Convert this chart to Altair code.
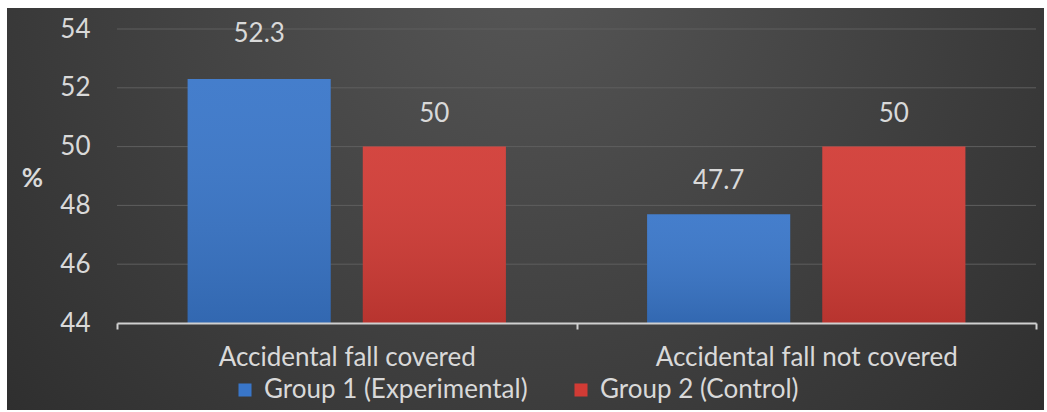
import altair as alt
import pandas as pd

categories = ["Accidental fall covered", "Accidental fall not covered"]
groups = ["Group 1 (Experimental)", "Group 2 (Control)"]
group1 = [52.3, 47.7]
group2 = [50, 50]
y_ticks = [44, 46, 48, 50, 52, 54]

rows = []
for i, cat in enumerate(categories):
    rows.append({"category": cat, "group": groups[0], "value": group1[i]})
    rows.append({"category": cat, "group": groups[1], "value": group2[i]})
df = pd.DataFrame(rows)
grid_df = pd.DataFrame({"tick": y_ticks[1:]})

W, H = 919, 294
PAD = {"left": 117, "top": 29, "right": 11, "bottom": 89}
FONT = "Lato"
FS = 26
TXT = "#d9d9d9"

# dark backdrop with a soft radial glow, spanning the whole card
backdrop = alt.Chart(pd.DataFrame({"k": [0]})).mark_rect(
    fill=alt.RadialGradient(
        gradient="radial",
        stops=[alt.GradientStop(color="#575757", offset=0),
               alt.GradientStop(color="#2a2a2a", offset=1)],
        x1=0.5, y1=0.25, r1=0, x2=0.5, y2=0.25, r2=0.75,
    )
).encode(
    x=alt.value(-110), x2=alt.value(W + 8),
    y=alt.value(-21), y2=alt.value(H + 87),
)

y_scale = alt.Scale(domain=[44, 54], nice=False, zero=False)

# horizontal gridlines behind the bars
grid = alt.Chart(grid_df).mark_rule(color="#5e5e5e", strokeWidth=1).encode(
    y=alt.Y("tick:Q", scale=y_scale), x=alt.value(0), x2=alt.value(W)
)

x_enc = alt.X("category:N", sort=categories, title=None,
              scale=alt.Scale(paddingInner=0, paddingOuter=0),
              axis=alt.Axis(labelAngle=0, labelFont=FONT, labelFontSize=FS,
                            labelColor=TXT, domainColor="#d0d0d0", domainWidth=2,
                            tickColor="#d0d0d0", tickWidth=2, tickSize=6,
                            tickBand="extent", labelPadding=15, grid=False,
                            labelLimit=0, zindex=2))
xo_enc = alt.XOffset("group:N", sort=groups,
                     scale=alt.Scale(paddingInner=0.183, paddingOuter=0.403))
y_enc = alt.Y("value:Q", title="%", scale=y_scale,
              axis=alt.Axis(values=y_ticks, labelFont=FONT, labelFontSize=FS,
                            labelColor=TXT, labelPadding=27, domain=False,
                            ticks=False, grid=False, zindex=2,
                            titleAngle=0, titleX=-85, titleY=162,
                            titleFont=FONT, titleFontSize=FS, titleColor=TXT,
                            titleFontWeight="bold"))

bars = alt.Chart(df).mark_bar().encode(
    x=x_enc, xOffset=xo_enc, y=y_enc,
    y2=alt.datum(44),
    color=alt.Color("group:N", sort=groups,
                    scale=alt.Scale(domain=groups, range=["#3976c9", "#d13b35"]),
                    legend=alt.Legend(title=None, orient="none", direction="horizontal",
                                      legendX=115, legendY=348,
                                      symbolType="square", symbolSize=170,
                                      symbolStrokeWidth=0, labelFont=FONT,
                                      labelFontSize=FS, labelColor=TXT,
                                      labelLimit=0, columnPadding=40, labelOffset=6)),
)

# subtle top-to-bottom shading on each bar
shade = alt.Chart(df).mark_bar(
    fill=alt.LinearGradient(
        gradient="linear",
        stops=[alt.GradientStop(color="rgba(255,255,255,0.06)", offset=0),
               alt.GradientStop(color="rgba(0,0,0,0.12)", offset=1)],
        x1=0, y1=0, x2=0, y2=1,
    )
).encode(x=alt.X("category:N", sort=categories), xOffset=alt.XOffset("group:N", sort=groups),
         y="value:Q", y2=alt.datum(44))

label_base = alt.Chart(df).encode(
    x=alt.X("category:N", sort=categories), xOffset=alt.XOffset("group:N", sort=groups),
    y="value:Q", text=alt.Text("value:Q", format="~g"))

# value labels above the bars; the tallest one sits a little higher
labels = label_base.mark_text(font=FONT, fontSize=FS, color=TXT, dy=-33).transform_filter(
    "datum.value <= 52")
labels_top = label_base.mark_text(font=FONT, fontSize=FS, color=TXT, dy=-45).transform_filter(
    "datum.value > 52")

chart = alt.layer(backdrop, grid, bars, shade, labels, labels_top).properties(
    width=W, height=H, background="white",
    padding=PAD, autosize=alt.AutoSizeParams(type="none"),
).configure_view(stroke=None)

chart.save("out.html", embed_options={"renderer": "svg", "actions": False})
